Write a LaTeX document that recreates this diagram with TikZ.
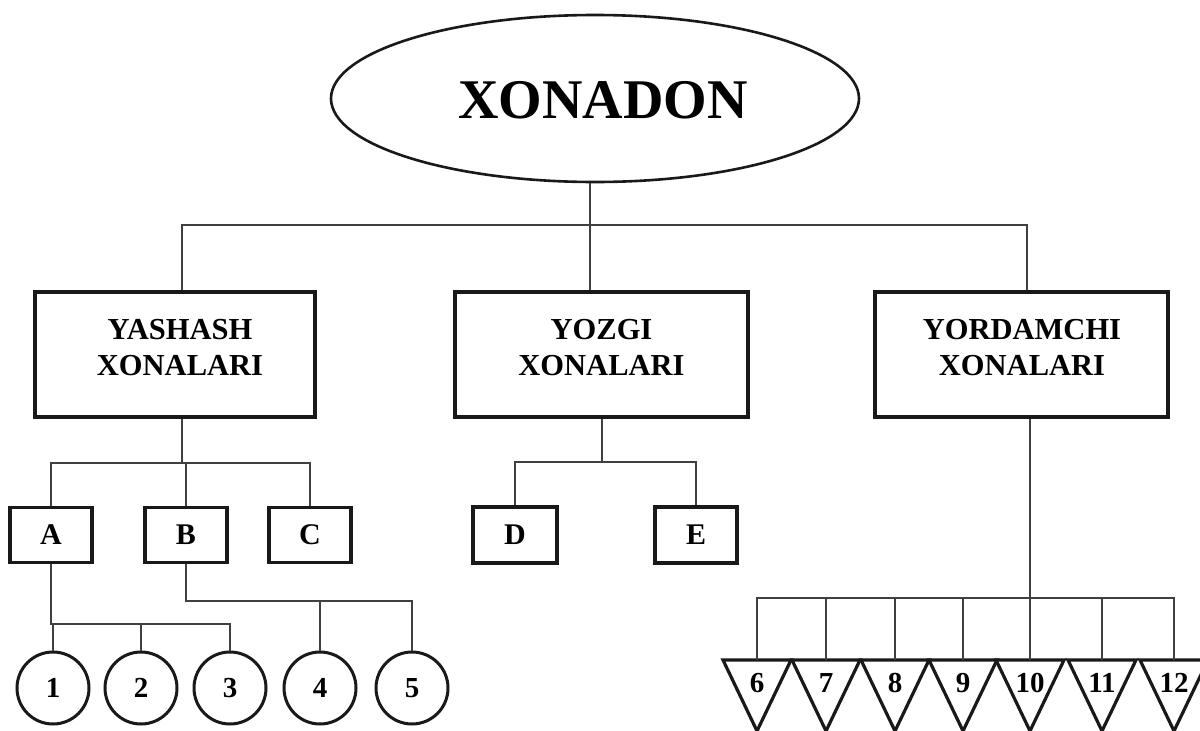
\documentclass[tikz,border=0pt]{standalone}
\usepackage{fontspec}
\setmainfont{Liberation Serif}
\usetikzlibrary{shapes.geometric,calc}
\begin{document}
\begin{tikzpicture}[x=1pt,y=-1pt,
  conn/.style={draw=black!75,line width=1.6pt},
  rootshape/.style={ellipse,draw=black!90,line width=2.6pt,minimum width=528pt,minimum height=167pt,inner sep=0pt},
  roottext/.style={inner sep=0pt,font=\fontsize{56}{60}\selectfont\bfseries},
  bigbox/.style={draw=black!90,line width=3.2pt,minimum height=125pt,inner sep=0pt},
  bigtext/.style={align=center,font=\fontsize{30.5}{36}\selectfont\bfseries,inner sep=0pt},
  letterbox/.style={draw=black!90,line width=3.2pt,minimum width=82pt,minimum height=55pt,inner sep=0pt,font=\fontsize{30}{34}\selectfont\bfseries},
  numcircle/.style={circle,draw=black!90,line width=3pt,minimum size=72pt,inner sep=0pt,font=\fontsize{29}{32}\selectfont\bfseries},
  triline/.style={draw=black!90,line width=3.2pt,line join=miter},
  trinum/.style={inner sep=0pt,font=\fontsize{29}{32}\selectfont\bfseries}
]
\clip (0,0) rectangle (1200,731);
\fill[white] (0,0) rectangle (1200,731);

% root
\node[rootshape] (root) at (595,98.5) {};
\node[roottext] (roott) at (603,100) {XONADON};

% level 1 boxes
\node[bigbox,minimum width=280pt] (y1) at (175,354.5) {};
\node[bigtext] (y1t) at (180,347.5) {YASHASH\\XONALARI};
\node[bigbox,minimum width=293pt] (y2) at (601.5,354.5) {};
\node[bigtext] (y2t) at (601.5,347.5) {YOZGI\\XONALARI};
\node[bigbox,minimum width=293pt] (y3) at (1021.5,354.5) {};
\node[bigtext] (y3t) at (1022,347.5) {YORDAMCHI\\XONALARI};

% letter boxes
\node[letterbox] (A) at (51,535) {A};
\node[letterbox] (B) at (186,535) {B};
\node[letterbox] (C) at (310,535) {C};
\node[letterbox,minimum width=84pt,minimum height=56pt] (D) at (515,535) {D};
\node[letterbox,minimum width=82pt,minimum height=56pt] (E) at (696,535) {E};

% circles
\node[numcircle] (n1) at (53,688) {1};
\node[numcircle] (n2) at (141,688) {2};
\node[numcircle] (n3) at (230,688) {3};
\node[numcircle] (n4) at (320,688) {4};
\node[numcircle] (n5) at (412,688) {5};

% triangles (top-centre coordinates)
\foreach \n/\x in {6/757,7/826,8/895,9/963,10/1030,11/1102,12/1174}{
  \coordinate (t\n) at (\x,660);
  \draw[triline] ($(t\n)+(-34,0)$) -- ($(t\n)+(34,0)$) -- ($(t\n)+(0,71)$) -- cycle;
  \node[trinum] (tl\n) at ($(t\n)+(0,23)$) {\n};
}

% junction coordinates
\coordinate (r0) at (590,225);
\coordinate (c1) at (182,225);
\coordinate (c3) at (1027,225);
\coordinate (b1) at (182,463);
\coordinate (b2) at (602,462);
\coordinate (b3) at (52,624);
\coordinate (b4) at (185,601);
\coordinate (b5) at (1030,598);

% root connectors
\draw[conn] (root.south -| r0) -- (r0 |- y2.north);
\draw[conn] (c1 |- y1.north) -- (c1) -- (c3) -- (c3 |- y3.north);

% YASHASH -> A B C
\draw[conn] (b1 |- y1.south) -- (b1);
\draw[conn] (A.north) -- (A.north |- b1) -- (C.north |- b1) -- (C.north);
\draw[conn] (B.north) -- (B.north |- b1);

% YOZGI -> D E
\draw[conn] (b2 |- y2.south) -- (b2);
\draw[conn] (D.north) -- (D.north |- b2) -- (E.north |- b2) -- (E.north);

% A -> 1 2 3
\draw[conn] (A.south) -- (A.south |- b3) -- (n3.north |- b3) -- (n3.north);
\draw[conn] (n1.north |- b3) -- (n1.north);
\draw[conn] (n2.north |- b3) -- (n2.north);

% B -> 4 5
\draw[conn] (B.south) -- (B.south |- b4) -- (n5.north |- b4) -- (n5.north);
\draw[conn] (n4.north |- b4) -- (n4.north);

% YORDAMCHI -> 6..12
\draw[conn] (b5 |- y3.south) -- (b5);
\draw[conn] (t6) -- (t6 |- b5) -- (t12 |- b5) -- (t12);
\foreach \n in {7,8,9,10,11}{
  \draw[conn] (t\n |- b5) -- (t\n);
}
\end{tikzpicture}
\end{document}
